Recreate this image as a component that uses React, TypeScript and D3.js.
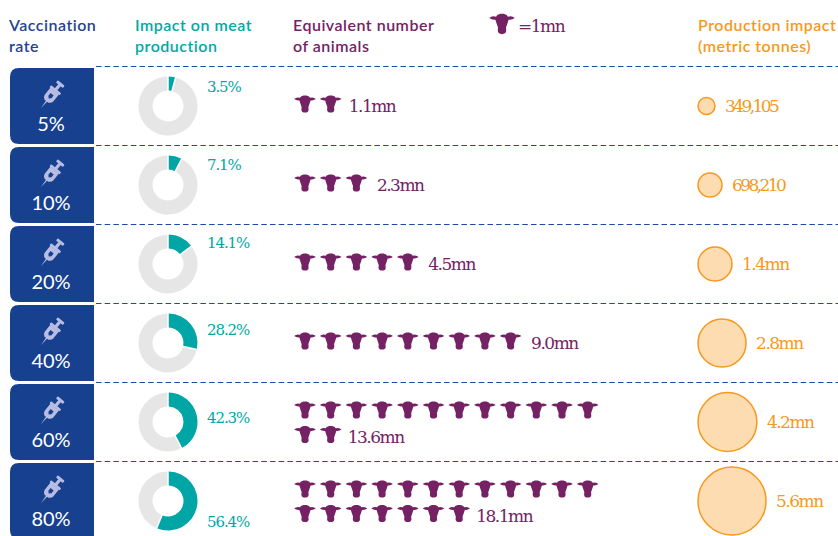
import React from "react";
import * as d3 from "d3";

const rates = ["5%", "10%", "20%", "40%", "60%", "80%"];
const impactPct = [3.5, 7.1, 14.1, 28.2, 42.3, 56.4];
const animalsMn = [1.1, 2.3, 4.5, 9.0, 13.6, 18.1];
const animalLabels = ["1.1mn", "2.3mn", "4.5mn", "9.0mn", "13.6mn", "18.1mn"];
const tonnes = [349105, 698210, 1400000, 2800000, 4200000, 5600000];
const tonneLabels = ["349,105", "698,210", "1.4mn", "2.8mn", "4.2mn", "5.6mn"];

const BLUE = "#17408f";
const TEAL = "#00a6a6";
const PURPLE = "#742264";
const ORANGE = "#f7991c";
const SANS = "Lato, 'Open Sans', sans-serif";
const SERIF = "'DejaVu Serif', serif";

const COW =
  "M-4,-7.6 L-1.5,-8.6 L1.5,-8.6 L4,-7.6 L5,-6.2 Q8.5,-7.4 10.8,-5 Q8.5,-3.2 5.6,-3.6 L4.8,-1 L3.4,3 L3.6,6 Q3.2,8.6 0,8.6 Q-3.2,8.6 -3.6,6 L-3.4,3 L-4.8,-1 L-5.6,-3.6 Q-8.5,-3.2 -10.8,-5 Q-8.5,-7.4 -5,-6.2 Z";

const rowY = d3.scaleLinear().domain([0, 5]).range([106, 501]);
const cowX = d3.scaleLinear().domain([0, 11]).range([305, 587.7]);
const rScale = d3.scaleSqrt().domain([0, 5600000]).range([0, 34]);
const arcGen = d3.arc<d3.PieArcDatum<number>>().innerRadius(15.5).outerRadius(29.5);
const pieGen = d3.pie<number>().sort(null).padAngle(0.045);
const pctOffset = [-14, -15, -16, -8, 1, 26];

function Syringe({ cx, cy }: { cx: number; cy: number }) {
  return (
    <g transform={`translate(${cx},${cy}) rotate(39)`} fill="#b9bde3">
      <path d="M-0.8,7 L0,17 L0.8,7 Z" />
      <path
        fillRule="evenodd"
        d="M-5.5,-5 L5.5,-5 L5.5,4 Q5.5,6 2.5,8 L-2.5,8 Q-5.5,6 -5.5,4 Z M-2,-1 L-2,2.5 L0,4.5 L2,2.5 L2,-1 Z"
      />
      <rect x={-6.5} y={-7.5} width={13} height={2.8} rx={1} />
      <rect x={-1.6} y={-13} width={3.2} height={6} />
      <rect x={-4.5} y={-15.5} width={9} height={3} rx={1} />
    </g>
  );
}

function boxPath(y: number) {
  const x0 = 10, x1 = 94, h = 76, r = 9;
  return `M${x1},${y} L${x0 + r},${y} Q${x0},${y} ${x0},${y + r} L${x0},${y + h - r} Q${x0},${y + h} ${x0 + r},${y + h} L${x1},${y + h} Z`;
}

function Head({ x, y, fill, lines }: { x: number; y: number; fill: string; lines: string[] }) {
  return (
    <text x={x} y={y} fill={fill} fontFamily={SANS} fontSize={16} fontWeight={600} letterSpacing={0.5}>
      {lines.map((l, i) => (
        <tspan key={l} x={x} y={y + i * 21}>{l}</tspan>
      ))}
    </text>
  );
}

export default function App() {
  return (
    <svg width={838} height={536} viewBox="0 0 838 536"
      style={{ position: "fixed", left: 0, top: 0, display: "block", background: "#fff" }}>
      <Head x={9} y={31} fill="#1f4494" lines={["Vaccination", "rate"]} />
      <Head x={135} y={31} fill="#00a9a5" lines={["Impact on meat", "production"]} />
      <Head x={293} y={31} fill={PURPLE} lines={["Equivalent number", "of animals"]} />
      <Head x={698} y={31} fill={ORANGE} lines={["Production impact", "(metric tonnes)"]} />

      <path d={COW} fill={PURPLE} transform="translate(502,24) scale(1.18)" />
      <text x={518} y={32} fill={PURPLE} fontFamily={SERIF} fontSize={17} letterSpacing={-1.5}>=1mn</text>

      {rates.map((rate, i) => {
        const cy = rowY(i);
        const nCows = Math.ceil(animalsMn[i]);
        const topCount = Math.min(nCows, 12);
        const twoRows = nCows > 12;
        const bottomCount = nCows - topCount;
        const r = rScale(tonnes[i]);
        const lastX = cowX((twoRows ? bottomCount : topCount) - 1);
        const cowTop = twoRows ? cy - 12 : cy - 2;
        const cowBottom = cy + 12.5;
        const lineY = cy - 39.5;
        const gap = twoRows ? 17 : nCows < 3 ? 18 : 20.5;
        return (
          <g key={rate}>
            <line x1={96} x2={838} y1={lineY} y2={lineY} stroke="#1b49a3" strokeWidth={1} strokeDasharray="5.5 3.2" />
            <path d={boxPath(cy - 38)} fill={BLUE} />
            <Syringe cx={51.5} cy={cy - 11} />
            <text x={51} y={cy + 25} textAnchor="middle" fill="#fff" fontFamily={SANS} fontSize={20}>{rate}</text>

            <g transform={`translate(168,${cy})`}>
              {pieGen([impactPct[i], 100 - impactPct[i]]).map((a, k) => (
                <path key={k} d={arcGen(a) ?? ""} fill={k === 0 ? TEAL : "#e6e6e6"} />
              ))}
            </g>
            <text x={207} y={cy + pctOffset[i]} fill={TEAL} fontFamily={SERIF} fontSize={15} letterSpacing={-1.1}>
              {impactPct[i].toFixed(1)}%
            </text>

            {d3.range(topCount).map((k) => (
              <path key={k} d={COW} fill={PURPLE} transform={`translate(${cowX(k)},${cowTop})`} />
            ))}
            {d3.range(bottomCount).map((k) => (
              <path key={k} d={COW} fill={PURPLE} transform={`translate(${cowX(k)},${cowBottom})`} />
            ))}
            <text x={lastX + gap} y={(twoRows ? cowBottom : cowTop) + 8}
              fill={PURPLE} fontFamily={SERIF} fontSize={17} letterSpacing={-1.5}>
              {animalLabels[i]}
            </text>

            <circle cx={698 + r} cy={cy} r={r} fill="#fcdcb0" stroke={ORANGE} strokeWidth={1.5} />
            <text x={Math.max(725, 698 + 2 * r + 10)} y={cy + 6} fill={ORANGE}
              fontFamily={SERIF} fontSize={17} letterSpacing={tonneLabels[i].includes(",") ? -2.6 : -1.5}>
              {tonneLabels[i]}
            </text>
          </g>
        );
      })}
    </svg>
  );
}
